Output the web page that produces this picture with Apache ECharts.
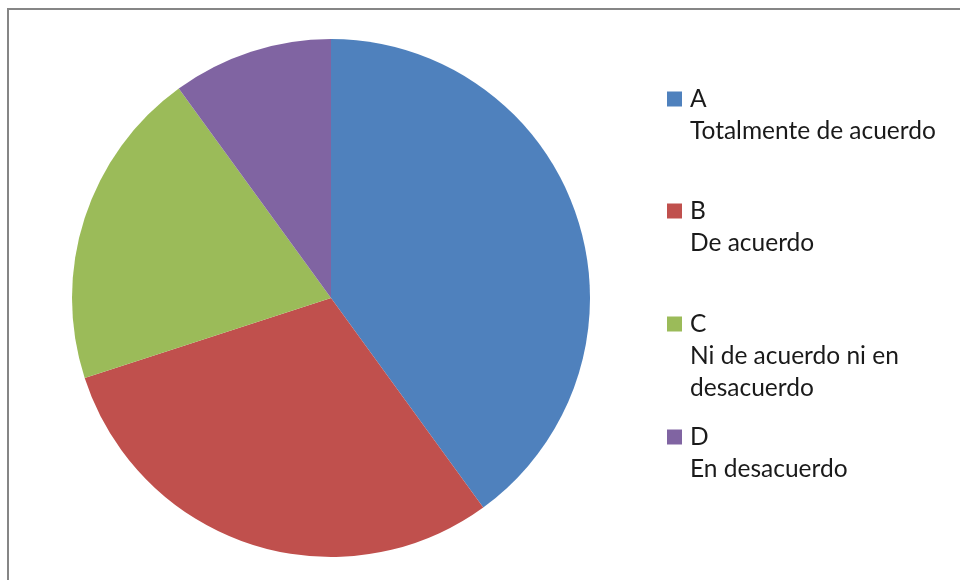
<!DOCTYPE html>
<html>
<head>
<meta charset="utf-8">
<script src="https://cdn.jsdelivr.net/npm/echarts@6/dist/echarts.min.js"></script>
<style>html,body{margin:0;padding:0;background:#fff}#c{width:960px;height:580px}</style>
</head>
<body>
<div id="c"></div>
<script>
var categories = ['A', 'B', 'C', 'D'];
var descriptions = ['Totalmente de acuerdo', 'De acuerdo', 'Ni de acuerdo ni en\ndesacuerdo', 'En desacuerdo'];
var values = [40, 30, 20, 10];
var colors = ['#4F81BD', '#C0504D', '#9BBB59', '#8064A2'];

var LH = 32;
var markerCenters = [99, 211, 324, 437];
var legends = categories.map(function (cat, i) {
  var descLines = descriptions[i].split('\n').length;
  var n = 1 + descLines;
  var blank = new Array(n).join('\n'); // n-1 empty lines so first real line sits on the icon
  var total = 2 * n - 1;
  return {
    orient: 'vertical',
    left: 667,
    top: markerCenters[i] - total * LH / 2,
    padding: 0,
    itemWidth: 15,
    itemHeight: 15,
    icon: 'rect',
    selectedMode: false,
    data: [cat],
    formatter: function (name) { return blank + name + '\n' + descriptions[i]; },
    textStyle: {
      fontFamily: 'Lato',
      fontSize: 24.5,
      color: '#1a1a1a',
      lineHeight: LH,
      padding: [0, 0, 0, 3]
    }
  };
});

var chart = echarts.init(document.getElementById('c'), null, {renderer: 'canvas'});
chart.setOption({
  animation: false,
  color: colors,
  legend: legends,
  graphic: [{
    type: 'rect',
    shape: {x: 8, y: 9, width: 1200, height: 1200},
    style: {fill: 'none', stroke: '#868686', lineWidth: 2},
    silent: true
  }],
  series: [{
    type: 'pie',
    center: [331, 298],
    radius: 259,
    startAngle: 90,
    clockwise: true,
    label: {show: false},
    labelLine: {show: false},
    emphasis: {disabled: true},
    itemStyle: {borderWidth: 0},
    data: categories.map(function (c, i) { return {name: c, value: values[i]}; })
  }]
});
</script>
</body>
</html>
